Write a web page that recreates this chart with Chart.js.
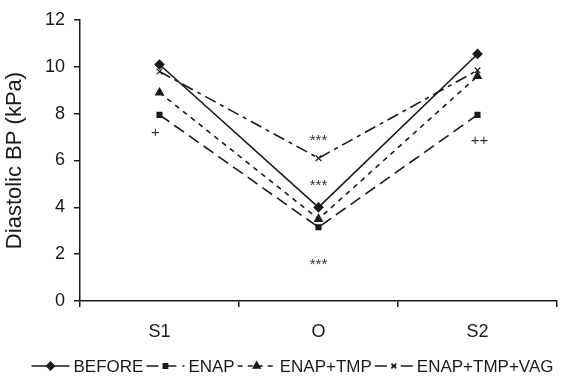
<!DOCTYPE html>
<html>
<head>
<meta charset="utf-8">
<script src="https://cdn.jsdelivr.net/npm/chart.js@4"></script>
<style>
  html, body { margin: 0; padding: 0; background: #fff; }
  #wrap { width: 579px; height: 382px; }
</style>
</head>
<body>
<div id="wrap"><canvas id="mychart" width="579" height="382"></canvas></div>
<script>
// categories and series (kPa)
var phases = ['S1', 'O', 'S2'];
var before = [10.1, 4.0, 10.55];
var enap = [7.95, 3.15, 7.95];
var enapTmp = [8.9, 3.5, 9.6];
var enapTmpVag = [9.8, 6.1, 9.85];
var yTicks = [0, 2, 4, 6, 8, 10, 12];

// significance marks: text, category index, value, x shift in px
var markText = ['+', '***', '***', '***', '++'];
var markCat = [0, 1, 1, 1, 2];
var markVal = [7.2, 6.85, 4.9, 1.55, 6.85];
var markShift = [-4, 0, 0, 0, 2];

var ink = '#1a1a1a';
var fontName = '"Liberation Sans", Arial, sans-serif';

var seriesStyle = [
  { label: 'BEFORE', data: before, dash: [], point: 'rectRot', r: 4.5 },
  { label: 'ENAP', data: enap, dash: [12, 6], point: 'rect', r: 3.5 },
  { label: 'ENAP+TMP', data: enapTmp, dash: [5, 5], point: 'triangle', r: 4.5 },
  { label: 'ENAP+TMP+VAG', data: enapTmpVag, dash: [12, 5, 4, 5], point: 'crossRot', r: 4 }
];

var datasets = seriesStyle.map(function(s) {
  return {
    label: s.label,
    data: s.data,
    borderColor: ink,
    backgroundColor: ink,
    borderWidth: 1.6,
    borderDash: s.dash,
    pointStyle: s.point,
    pointRadius: s.r,
    pointBorderWidth: 1.2,
    pointBorderColor: ink,
    pointBackgroundColor: ink,
    tension: 0
  };
});

// marks + legend drawn on the canvas
var extras = {
  id: 'extras',
  afterDraw: function(chart) {
    var ctx = chart.ctx;
    var xs = chart.scales.x, ys = chart.scales.y;
    ctx.save();
    ctx.fillStyle = '#333';
    ctx.font = '15px ' + fontName;
    ctx.textAlign = 'center';
    ctx.textBaseline = 'middle';
    for (var i = 0; i < markText.length; i++) {
      ctx.fillText(markText[i], xs.getPixelForValue(markCat[i]) + markShift[i], ys.getPixelForValue(markVal[i]));
    }

    // legend
    ctx.font = '17px ' + fontName;
    ctx.textAlign = 'left';
    var lineW = 38, gap = 4, itemGap = 3;
    var widths = seriesStyle.map(function(s) { return lineW + gap + ctx.measureText(s.label).width; });
    var total = widths.reduce(function(a, b) { return a + b; }, 0) + itemGap * (widths.length - 1);
    var x = (chart.width - total) / 2 + 3;
    var y = 366;
    seriesStyle.forEach(function(s, k) {
      ctx.strokeStyle = ink;
      ctx.lineWidth = 1.6;
      ctx.setLineDash(s.dash);
      ctx.beginPath();
      ctx.moveTo(x, y);
      ctx.lineTo(x + lineW, y);
      ctx.stroke();
      ctx.setLineDash([]);
      ctx.fillStyle = ink;
      Chart.helpers.drawPoint(ctx, { pointStyle: s.point, radius: s.r * 0.85, borderWidth: 1.2, rotation: 0 }, x + lineW / 2, y);
      ctx.fillStyle = ink;
      ctx.fillText(s.label, x + lineW + gap, y + 1);
      x += widths[k] + itemGap;
    });
    ctx.restore();
  }
};

var ctx = document.getElementById('mychart').getContext('2d');
new Chart(ctx, {
  type: 'line',
  data: { labels: phases, datasets: datasets },
  plugins: [extras],
  options: {
    responsive: false,
    animation: false,
    devicePixelRatio: 1,
    layout: { padding: { left: 0, top: 20, right: 22, bottom: 0 } },
    plugins: {
      legend: { display: false },
      tooltip: { enabled: false }
    },
    scales: {
      x: {
        offset: true,
        grid: { display: true, offset: true, drawOnChartArea: false, drawTicks: true, tickLength: 6, color: ink, lineWidth: 1.5 },
        border: { display: true, color: ink, width: 1.5 },
        ticks: { color: ink, font: { family: fontName, size: 18 }, padding: 14 },
        afterFit: function(scale) { scale.height = 81; }
      },
      y: {
        min: 0,
        max: 12,
        afterBuildTicks: function(scale) { scale.ticks = yTicks.map(function(v) { return { value: v }; }); },
        grid: { display: true, drawOnChartArea: false, drawTicks: true, tickLength: 6, color: ink, lineWidth: 1.5 },
        border: { display: true, color: ink, width: 1.5 },
        ticks: { color: ink, font: { family: fontName, size: 18 }, padding: 9 },
        title: { display: true, text: 'Diastolic BP (kPa)', color: ink, font: { family: fontName, size: 22 }, padding: 2 },
        afterFit: function(scale) { scale.width = 80; }
      }
    }
  }
});
</script>
</body>
</html>
